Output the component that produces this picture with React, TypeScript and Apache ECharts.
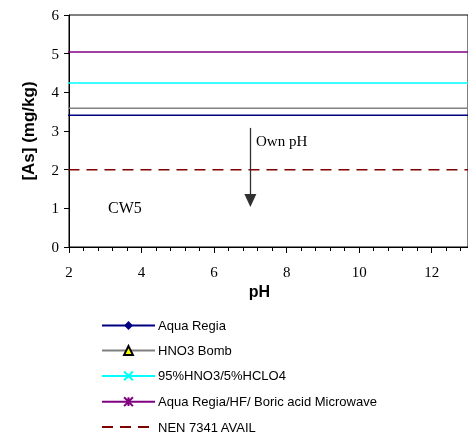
import React, { useEffect, useRef } from "react";
import * as echarts from "echarts";

const seriesNames = [
  "Aqua Regia",
  "HNO3 Bomb",
  "95%HNO3/5%HCLO4",
  "Aqua Regia/HF/ Boric acid Microwave",
  "NEN 7341 AVAIL",
];
const seriesValues = [3.41, 3.59, 4.24, 5.04, 2.0];
const lineXs = [0, 20];
const arrowFrom = [7, 3.08];
const arrowTo = [7, 1.2];

const colors = ["#000080", "#808080", "#00FFFF", "#800080", "#800000"];
const symbols = [
  "diamond",
  "triangle",
  "path://M0,0L10,10M10,0L0,10",
  "path://M0,0L10,10M10,0L0,10M5,0L5,10",
  "circle",
];

export default function App() {
  const ref = useRef<HTMLDivElement>(null);
  useEffect(() => {
    const chart = echarts.init(ref.current!, null, { renderer: "svg" });
    const series: any[] = seriesNames.map((name, i) => {
      const s: any = {
        name,
        type: "line",
        data: lineXs.map((x) => [x, seriesValues[i]]),
        symbol: symbols[i],
        symbolSize: 8,
        clip: true,
        lineStyle: {
          color: colors[i],
          width: 1.5,
          type: i === 4 ? [11, 7] : "solid",
        },
        itemStyle:
          i === 1
            ? { color: "#FFFF00", borderColor: "#000000", borderWidth: 1 }
            : i === 2 || i === 3
            ? { color: "none", borderColor: colors[i], borderWidth: 1.5 }
            : i === 4
            ? { color: "transparent", borderColor: "transparent", borderWidth: 0 }
            : { color: colors[i], borderColor: colors[i] },
        z: 2,
      };
      if (i === 4) {
        s.markLine = {
          silent: true,
          symbol: ["none", "triangle"],
          symbolSize: [12, 13],
          lineStyle: { color: "#303030", width: 1.3, type: "solid" },
          itemStyle: { color: "#000000" },
          label: { show: false },
          data: [[{ coord: arrowFrom }, { coord: arrowTo }]],
        };
      }
      return s;
    });
    chart.setOption({
      animation: false,
      grid: { left: 69, top: 15, width: 403, height: 232, show: true, borderColor: "#000", borderWidth: 1 },
      xAxis: {
        type: "value",
        min: 2,
        max: 13,
        interval: 2,
        name: "pH",
        nameLocation: "middle",
        nameGap: 31,
        nameTextStyle: { fontFamily: "Liberation Sans, Arial", fontWeight: "bold", fontSize: 16, color: "#000", padding: [0, 18, 0, 0] },
        axisLine: { lineStyle: { color: "#000", width: 1 } },
        axisTick: { show: true, length: 6, lineStyle: { color: "#000" } },
        minorTick: { show: true, splitNumber: 5, length: 4, lineStyle: { color: "#000" } },
        splitLine: { show: false },
        axisLabel: { fontFamily: "Liberation Serif, Times New Roman", fontSize: 15, color: "#000", margin: 17, showMaxLabel: false },
      },
      yAxis: {
        type: "value",
        min: 0,
        max: 6,
        interval: 1,
        name: "[As] (mg/kg)",
        nameLocation: "middle",
        nameGap: 32,
        nameTextStyle: { fontFamily: "Liberation Sans, Arial", fontWeight: "bold", fontSize: 17, color: "#000" },
        axisLine: { show: true, lineStyle: { color: "#000", width: 1 } },
        axisTick: { show: true, length: 5, lineStyle: { color: "#000" } },
        splitLine: { show: false },
        axisLabel: { fontFamily: "Liberation Serif, Times New Roman", fontSize: 15, color: "#000", margin: 10 },
      },
      legend: {
        orient: "vertical",
        left: 101,
        top: 319,
        height: 130,
        padding: 0,
        itemWidth: 53,
        itemHeight: 11,
        itemGap: 12,
        textStyle: { fontFamily: "Liberation Sans, Arial", fontSize: 13, color: "#000", padding: [0, 0, 0, -2] },
        data: seriesNames,
      },
      graphic: [
        { type: "text", left: 256, top: 133, style: { text: "Own pH", font: "15px 'Liberation Serif'", fill: "#000" } },
        { type: "text", left: 108, top: 199, style: { text: "CW5", font: "16px 'Liberation Serif'", fill: "#000" } },
      ],
      series,
    });
    return () => chart.dispose();
  }, []);
  return <div ref={ref} style={{ position: "fixed", left: 0, top: 0, width: 468, height: 446 }} />;
}
